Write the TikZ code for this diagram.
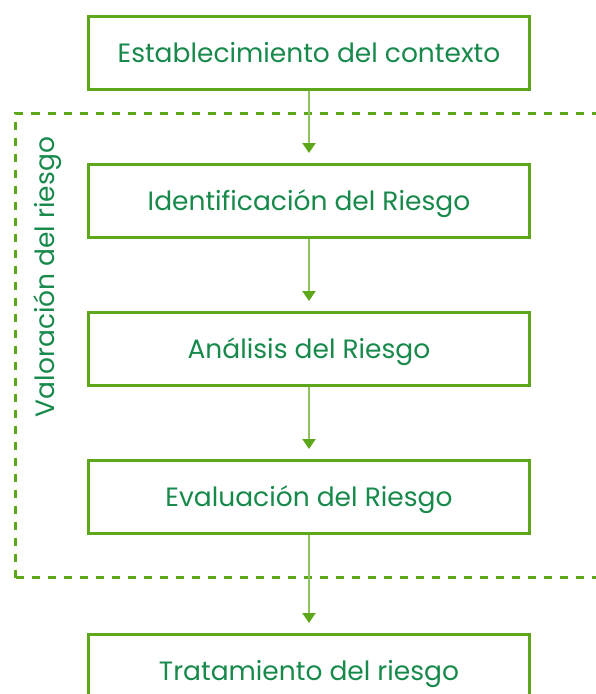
\documentclass[tikz,border=0pt]{standalone}
\usepackage{fontspec}
\setmainfont{Poppins}
\usetikzlibrary{positioning,arrows.meta}
\definecolor{boxgreen}{HTML}{5DA71B}
\definecolor{linegreen}{HTML}{8CC35E}
\definecolor{textgreen}{HTML}{17894B}
\begin{document}
\begin{tikzpicture}[x=1pt, y=1pt, node distance=72pt,
stepbox/.style={draw=boxgreen, line width=3pt, minimum width=441pt, minimum height=73pt,
  text=textgreen, font=\fontsize{26.5}{30}\selectfont, inner sep=0pt,
  text height=18.5pt, text depth=0pt},
flow/.style={draw=linegreen, line width=2pt, shorten >=10pt,
  -{Triangle[width=13pt, length=10pt, color=boxgreen]}}]
\useasboundingbox (0,0) rectangle (595,-694);
\node[stepbox] (ctx) at (309,-53) {Establecimiento del contexto};
\node[stepbox, below=of ctx] (ident) {Identificación del Riesgo};
\node[stepbox, below=of ident] (anal) {Análisis del Riesgo};
\node[stepbox, below=of anal] (eval) {Evaluación del Riesgo};
\node[stepbox, below=98pt of eval] (trat) {Tratamiento del riesgo};

\draw[boxgreen, line width=3pt, dash pattern=on 8pt off 8pt] (15.5,-577.5) |- (605,-113.5);
\draw[boxgreen, line width=3pt, dash pattern=on 8pt off 8pt] (15.5,-577.5) -- (605,-577.5);
\node[rotate=90, text=textgreen, font=\fontsize{26.5}{30}\selectfont] (valor) at (48,-277) {Valoración del riesgo};

\draw[flow] (ctx) -- (ident);
\draw[flow] (ident) -- (anal);
\draw[flow] (anal) -- (eval);
\draw[flow] (eval) -- (trat);
\end{tikzpicture}
\end{document}
